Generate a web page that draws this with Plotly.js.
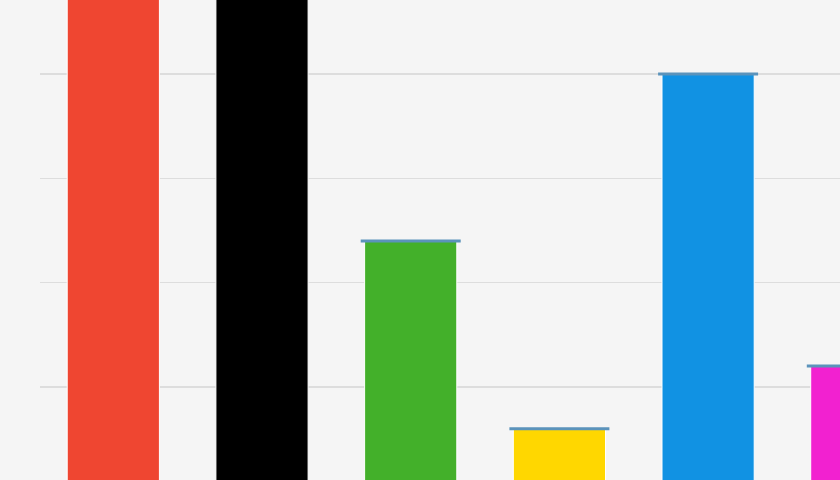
<!DOCTYPE html>
<html>
<head>
<meta charset="utf-8">
<script src="https://cdn.plot.ly/plotly-3.0.1.min.js"></script>
<style>
  html, body { margin: 0; padding: 0; background: #f5f5f5; }
  #chart { width: 840px; height: 480px; }
</style>
</head>
<body>
<div id="chart"></div>
<script>
    // parties and their values (red and black run past the top)
    var parties = ['SPD', 'CDU/CSU', 'Grüne', 'FDP', 'AfD', 'Linke'];
    var values = [56, 52, 24, 6, 40, 12];
    var colors = ['#ef4631', '#000000', '#43b02a', '#ffd700', '#1192e3', '#f221d0'];
    var caps = [0, 0, 0, 0, 0, 0];

    var trace = {
        x: parties,
        y: values,
        type: 'bar',
        hoverinfo: 'skip',
        marker: {
            color: colors,
            line: {color: '#ffffff', width: 1}
        },
        error_y: {
            type: 'data',
            array: caps,
            visible: true,
            width: 50,
            thickness: 3,
            color: '#5b93bb'
        }
    };

    var layout = {
        width: 840,
        height: 480,
        paper_bgcolor: '#f5f5f5',
        plot_bgcolor: '#f5f5f5',
        showlegend: false,
        margin: {t: 0, r: 0, l: 40, b: 0, pad: 0},
        bargap: 0.38,
        xaxis: {
            type: 'category',
            range: [-0.493, 4.887],
            showgrid: false,
            zeroline: false,
            showticklabels: false,
            ticks: ''
        },
        yaxis: {
            range: [1.08, 47.1],
            tick0: 0,
            dtick: 10,
            showgrid: true,
            gridcolor: '#dddddd',
            gridwidth: 1.5,
            zeroline: false,
            showticklabels: false,
            ticks: ''
        }
    };

    Plotly.newPlot('chart', [trace], layout, {displayModeBar: false, staticPlot: true});
</script>
</body>
</html>
